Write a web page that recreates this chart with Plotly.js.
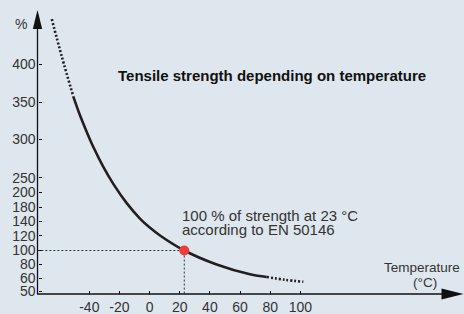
<!DOCTYPE html>
<html><head><meta charset="utf-8">
<script src="https://cdn.plot.ly/plotly-3.0.1.min.js"></script>
<style>html,body{margin:0;padding:0;background:#dfe7ee}#chart{width:464px;height:314px}</style>
</head><body><div id="chart"></div>
<script>
// ---- data ----
const xTickValues = [-40, -20, 0, 20, 40, 60, 80, 100];
const yTickLabels = [50, 60, 80, 100, 120, 140, 180, 200, 250, 300, 350, 400];
const upperDottedTemp = [-64.9, -58.3, -50.6];
const upperDottedStrength = [459, 410, 357];
const solidTemp = [-50.6, -46.2, -41.7, -37.4, -30.7, -24.1, -15.2, -6.4, 0.3, 6.9, 23, 44.5, 66.6, 77.7];
const solidStrength = [357, 332, 309.5, 290, 264, 229, 185.3, 147, 130.7, 120.3, 100, 79.7, 65.7, 61.9];
const lowerDottedTemp = [77.7, 89.9, 102];
const lowerDottedStrength = [61.9, 58.8, 57.3];
const refTemp = [23];
const refStrength = [100];

// ---- non-linear y scale of the drawing (value -> drawing unit) ----
const scaleUnits = [3, 15.7, 29.7, 43.5, 58.3, 73, 87, 101.7, 116.3, 155, 192, 230];
function toUnit(v) {
  const V = yTickLabels, U = scaleUnits, n = V.length;
  let i = 0;
  if (v <= V[0]) i = 0;
  else if (v >= V[n - 1]) i = n - 2;
  else { while (v > V[i + 1]) i++; }
  return U[i] + (v - V[i]) * (U[i + 1] - U[i]) / (V[i + 1] - V[i]);
}
const W = 464, H = 314;
const px = x => x / W, py = y => 1 - y / H;
const axisOriginT = -74.5;

const font = 'Liberation Sans, Arial, Helvetica, sans-serif';
const ink = '#231f20';
const textCol = '#333';

const traces = [
  { x: upperDottedTemp, y: upperDottedStrength.map(toUnit), mode: 'lines', line: { color: ink, width: 2.6, dash: '2px,2px', shape: 'spline' }, hoverinfo: 'skip' },
  { x: solidTemp, y: solidStrength.map(toUnit), mode: 'lines', line: { color: ink, width: 2.6, shape: 'spline' }, hoverinfo: 'skip' },
  { x: lowerDottedTemp, y: lowerDottedStrength.map(toUnit), mode: 'lines', line: { color: ink, width: 2.6, dash: '2px,2px', shape: 'spline' }, hoverinfo: 'skip' },
  { x: [axisOriginT, refTemp[0], refTemp[0]], y: [toUnit(refStrength[0]), toUnit(refStrength[0]), 0], mode: 'lines', line: { color: '#333', width: 1, dash: '2px,2px' }, hoverinfo: 'skip' },
  { x: refTemp, y: refStrength.map(toUnit), mode: 'markers', marker: { color: '#ef3c3a', size: 10 }, hoverinfo: 'skip' }
];

function label(x, y, text, size, opts) {
  return Object.assign({ xref: 'paper', yref: 'paper', x: px(x), y: py(y), xanchor: 'center', yanchor: 'middle', text: text, showarrow: false, font: { family: font, size: size, color: textCol } }, opts || {});
}

const layout = {
  width: W, height: H,
  margin: { l: 0, r: 0, t: 0, b: 0 },
  paper_bgcolor: '#dfe7ee', plot_bgcolor: 'rgba(0,0,0,0)',
  showlegend: false,
  xaxis: {
    range: [-99.26, 208.6], anchor: 'free', position: 20 / H,
    showgrid: false, zeroline: false, showline: false, automargin: false,
    tickvals: xTickValues, ticktext: xTickValues.map(String),
    ticks: 'inside', ticklen: 3, tickwidth: 1, tickcolor: '#111',
    ticklabelstandoff: 3,
    tickfont: { family: font, size: 14, color: textCol }
  },
  yaxis: {
    range: [-20, 294], anchor: 'free', position: 37.5 / W,
    showgrid: false, zeroline: false, showline: false, automargin: false,
    tickvals: yTickLabels.map(toUnit), ticktext: yTickLabels.map(String),
    ticks: 'inside', ticklen: 3, tickwidth: 1, tickcolor: '#111',
    ticklabelstandoff: 2,
    tickfont: { family: font, size: 14, color: textCol }
  },
  shapes: [
    { type: 'line', xref: 'paper', yref: 'paper', x0: px(37.5), x1: px(37.5), y0: py(294), y1: py(28), line: { color: '#111', width: 1.3 } },
    { type: 'line', xref: 'paper', yref: 'paper', x0: px(37), x1: px(443), y0: py(294), y1: py(294), line: { color: '#111', width: 1.3 } },
    { type: 'path', xref: 'paper', yref: 'paper', path: `M${px(32.8)},${py(29)} L${px(37.5)},${py(10)} L${px(42.2)},${py(29)} Z`, fillcolor: '#111', line: { width: 0 } },
    { type: 'path', xref: 'paper', yref: 'paper', path: `M${px(441.5)},${py(288.6)} L${px(463.5)},${py(294)} L${px(441.5)},${py(299.4)} Z`, fillcolor: '#111', line: { width: 0 } }
  ],
  annotations: [
    label(21, 24, '%', 14),
    label(116, 75.5, '<b>Tensile strength depending on temperature</b>', 15, { xanchor: 'left', font: { family: font, size: 15, color: '#111' } }),
    label(180, 215, '100 % of strength at 23 °C', 15, { xanchor: 'left' }),
    label(180, 229.5, 'according to EN 50146', 15, { xanchor: 'left' }),
    label(422, 267.5, 'Temperature', 13.5),
    label(425, 282, '(°C)', 13.5)
  ]
};

Plotly.newPlot('chart', traces, layout, { staticPlot: true, displayModeBar: false });
</script></body></html>
